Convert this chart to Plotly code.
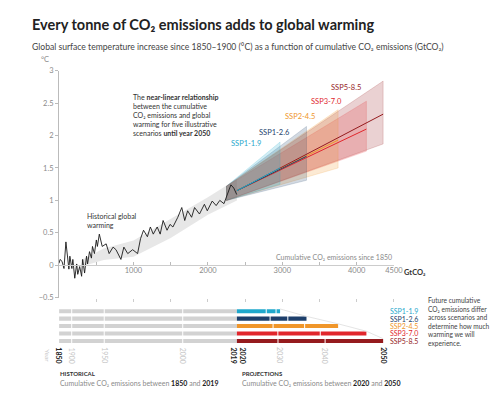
import plotly.graph_objects as go

W, H = 500, 416

# historical warming vs cumulative emissions (GtCO2, degC)
hist_x = [0, 13, 40, 66, 92, 119, 132, 145, 172, 185, 211, 237, 251, 277, 303, 317, 343, 369, 383, 409,
          435, 449, 475, 501, 515, 541, 580, 633, 673, 726, 765, 831, 871, 923, 989, 1055, 1095, 1135, 1187, 1227,
          1266, 1319, 1359, 1398, 1451, 1491, 1530, 1596, 1649, 1689, 1728, 1781, 1821, 1887, 1953, 1992, 2058, 2111, 2160, 2216,
          2309, 2348, 2388]
hist_y = [0.03, 0.09, 0.06, -0.05, 0.36, 0.03, -0.06, 0.14, -0.05, 0.09, -0.2, 0.02, -0.14, -0.02, -0.17, 0.09, -0.12, 0.14, 0.02, 0.21,
          0.11, 0.29, 0.18, 0.39, 0.29, 0.48, 0.29, 0.33, 0.18, 0.28, 0.24, 0.09, 0.28, 0.18, 0.24, 0.18, 0.41, 0.54, 0.44, 0.59,
          0.48, 0.59, 0.48, 0.69, 0.54, 0.63, 0.59, 0.74, 0.89, 0.69, 0.84, 0.74, 0.89, 0.79, 0.94, 0.84, 0.99, 0.92, 1.0, 0.95,
          1.24, 1.19, 1.09]

# historical likely range
band_x = [300, 600, 1000, 1500, 2000, 2390]
band_lo = [-0.02, 0.08, 0.13, 0.42, 0.78, 1.0]
band_hi = [0.08, 0.26, 0.38, 0.72, 1.05, 1.33]

# scenarios
scenarios = ["SSP1-1.9", "SSP1-2.6", "SSP2-4.5", "SSP3-7.0", "SSP5-8.5"]
colors = ["#1fa8cc", "#1d3f6b", "#f0962a", "#e1262c", "#951b1e"]
start_x = 2250
start_lo = 1.0
start_hi = 1.22
mid_start_x = 2390
mid_start_y = 1.15
end_x = [2970, 3325, 3750, 4130, 4355]
end_lo = [1.25, 1.31, 1.5, 1.76, 1.87]
end_hi = [1.9, 2.14, 2.4, 2.53, 2.84]
end_mid = [1.5, 1.68, 1.93, 2.1, 2.33]

# bottom bar panel
hist_end = 2390
decade_marks_hist = [170, 607, 1662]
decade_marks_proj = [[2784, 2916], [2836, 3074], [2876, 3300], [2940, 3510], [2942, 3575]]
year_labels = ["1850", "1900", "1950", "2000", "2019", "2020", "2030", "2040", "2050"]
year_pos = [0, 170, 607, 1662, 2350, 2470, 2960, 3570, 4355]
year_bold = [True, False, False, False, True, True, False, False, True]

x_ticks = [500, 1000, 1500, 2000, 2500, 3000, 3500, 4000, 4500]
x_ticktext = ["", "1000", "", "2000", "", "3000", "", "4000", "4500"]
y_ticks = [-0.5, 0, 0.5, 1, 1.5, 2, 2.5, 3]
y_ticktext = ["\u22120.5", "0", "0.5", "1", "1.5", "2", "2.5", "3"]


def px(x):
    return x / W


def py(y):
    return 1 - y / H


def rgba(hexc, a):
    h = hexc.lstrip("#")
    return "rgba(%d,%d,%d,%s)" % (int(h[0:2], 16), int(h[2:4], 16), int(h[4:6], 16), a)


FONT = "Lato, 'Open Sans', sans-serif"
GREY = "#8a8a8a"
DARK = "#333333"

fig = go.Figure()

# historical range band
fig.add_trace(go.Scatter(x=band_x + band_x[::-1], y=band_hi + band_lo[::-1], fill="toself",
                         fillcolor="rgba(195,195,195,0.4)", line=dict(width=0), mode="lines",
                         hoverinfo="skip", showlegend=False))

# scenario fans, widest at the back
for i in reversed(range(len(scenarios))):
    fig.add_trace(go.Scatter(
        x=[start_x, end_x[i], end_x[i], start_x, start_x],
        y=[start_lo, end_lo[i], end_hi[i], start_hi, start_lo],
        fill="toself", fillcolor=rgba(colors[i], 0.2),
        line=dict(color=rgba(colors[i], 0.22), width=0.8), mode="lines",
        hoverinfo="skip", showlegend=False))
for i in reversed(range(len(scenarios))):
    fig.add_trace(go.Scatter(x=[mid_start_x, end_x[i]], y=[mid_start_y, end_mid[i]], mode="lines",
                             line=dict(color=colors[i], width=1), showlegend=False, hoverinfo="skip"))

fig.add_trace(go.Scatter(x=hist_x, y=hist_y, mode="lines", line=dict(color="#1a1a1a", width=0.9),
                         showlegend=False, hoverinfo="skip"))

# dummy trace for the lower tick axis
fig.add_trace(go.Scatter(x=[0], y=[0], xaxis="x3", yaxis="y", mode="markers",
                         marker=dict(opacity=0), showlegend=False, hoverinfo="skip"))

# bottom bars
rows = list(range(len(scenarios)))
fig.add_trace(go.Scatter(x=end_x, y=[r - 0.3 for r in rows], mode="lines", xaxis="x2", yaxis="y2",
                         line=dict(color="#dddddd", width=0.8), showlegend=False, hoverinfo="skip"))
fig.add_trace(go.Bar(y=rows, x=[hist_end] * 5, base=[0] * 5, orientation="h", width=0.55,
                     marker=dict(color="#d2d2d2", line=dict(width=0)), xaxis="x2", yaxis="y2",
                     showlegend=False, hoverinfo="skip"))
fig.add_trace(go.Bar(y=rows, x=[e - hist_end for e in end_x], base=[hist_end] * 5, orientation="h", width=0.55,
                     marker=dict(color=colors, line=dict(width=0)), xaxis="x2", yaxis="y2",
                     showlegend=False, hoverinfo="skip"))
mx, my = [], []
for i in rows:
    for m in decade_marks_hist + decade_marks_proj[i]:
        mx.append(m)
        my.append(i)
fig.add_trace(go.Scatter(x=mx, y=my, mode="markers", xaxis="x2", yaxis="y2",
                         marker=dict(symbol="line-ns", size=5, line=dict(color="white", width=1)),
                         showlegend=False, hoverinfo="skip"))

y0_paper = py(292) + (0.5 / 3.5) * (py(60) - py(292))

fig.update_layout(
    width=W, height=H, margin=dict(l=0, r=0, t=0, b=0),
    paper_bgcolor="white", plot_bgcolor="white",
    font=dict(family=FONT, size=8, color=GREY),
    barmode="overlay",
    xaxis=dict(domain=[px(52), px(393)], range=[0, 4500], anchor="free", position=y0_paper,
               tickvals=x_ticks, ticktext=x_ticktext, ticks="inside", ticklen=3, tickcolor="#bbbbbb",
               showline=True, linecolor="#cccccc", linewidth=1, showgrid=False, zeroline=False,
               tickfont=dict(size=7.5, color=GREY), ticklabelstandoff=-2),
    xaxis3=dict(overlaying="x", anchor="y", side="bottom", range=[0, 4500], tickvals=x_ticks,
                showticklabels=False, ticks="outside", ticklen=3, tickcolor="#cccccc",
                showline=False, showgrid=False, zeroline=False),
    yaxis=dict(domain=[py(292), py(60)], range=[-0.5, 3], tickvals=y_ticks, ticktext=y_ticktext,
               ticks="outside", ticklen=3, tickcolor="#bbbbbb", showline=True, linecolor="#bbbbbb",
               linewidth=1, showgrid=False, zeroline=False, tickfont=dict(size=7.5, color=GREY)),
    xaxis2=dict(domain=[px(52), px(393)], range=[0, 4500], anchor="y2", visible=False),
    yaxis2=dict(domain=[py(340), py(302)], range=[4.5, -0.5], anchor="x2", visible=False),
)

ann = []
ann.append(dict(x=px(22), y=py(13), text="<b>Every tonne of CO\u2082 emissions adds to global warming</b>",
                font=dict(size=14.5, color="#222222")))
ann.append(dict(x=px(22), y=py(36),
                text="Global surface temperature increase since 1850\u20131900 (\u00b0C) as a function of cumulative CO\u2082 emissions (GtCO\u2082)",
                font=dict(size=8.6, color="#444444")))
ann.append(dict(x=px(32), y=py(49), text="\u00b0C", font=dict(size=7.5, color=GREY)))
ann.append(dict(x=px(125), y=py(105),
                text="The <b>near-linear relationship</b><br>between the cumulative<br>CO\u2082 emissions and global<br>warming for five illustrative<br>scenarios <b>until year 2050</b>",
                font=dict(size=7, color=DARK), align="left"))
ann.append(dict(x=px(78), y=py(213), text="Historical global<br>warming", font=dict(size=7, color=DARK), align="left"))
ann.append(dict(x=4500, y=0.12, xref="x", yref="y", xanchor="right",
                text="Cumulative CO\u2082 emissions since 1850", font=dict(size=7, color=GREY)))
ann.append(dict(x=4500, y=0, xref="x", yref="y", xanchor="left", yanchor="top", xshift=8, yshift=-1,
                text="<b>GtCO\u2082</b>", font=dict(size=7.5, color=DARK)))

lab_pos = [(2282, 1.87), (2665, 2.05), (3008, 2.29), (3364, 2.52), (3628, 2.74)]
for i, s in enumerate(scenarios):
    ann.append(dict(x=lab_pos[i][0], y=lab_pos[i][1], xref="x", yref="y", xanchor="left",
                    text=s, font=dict(size=7.5, color=colors[i])))
    ann.append(dict(x=px(387), y=i, xref="paper", yref="y2", xanchor="left",
                    text=s, font=dict(size=7, color=colors[i])))

ann.append(dict(x=px(426), y=py(316),
                text="Future cumulative<br>CO\u2082 emissions differ<br>across scenarios and<br>determine how much<br>warming we will<br>experience.",
                font=dict(size=6.6, color="#444444"), align="left"))

for lbl, pos, b in zip(year_labels, year_pos, year_bold):
    ann.append(dict(x=pos, y=py(351), xref="x2", yref="paper", xanchor="center", yanchor="middle",
                    textangle=90, text="<b>%s</b>" % lbl if b else lbl,
                    font=dict(size=7, color="#222222" if b else "#c4c4c4")))
ann.append(dict(x=px(40), y=py(351), xanchor="center", yanchor="middle", textangle=90,
                text="Year", font=dict(size=6.5, color="#c4c4c4")))

ann.append(dict(x=px(51), y=py(370), text="<b>HISTORICAL</b>", font=dict(size=6, color=DARK)))
ann.append(dict(x=px(51), y=py(379), text="Cumulative CO\u2082 emissions between <b style='color:#222'>1850</b> and <b style='color:#222'>2019</b>",
                font=dict(size=7, color=GREY)))
ann.append(dict(x=px(236), y=py(370), text="<b>PROJECTIONS</b>", font=dict(size=6, color=DARK)))
ann.append(dict(x=px(236), y=py(379), text="Cumulative CO\u2082 emissions between <b style='color:#222'>2020</b> and <b style='color:#222'>2050</b>",
                font=dict(size=7, color=GREY)))

for a in ann:
    a.setdefault("xref", "paper")
    a.setdefault("yref", "paper")
    a.setdefault("xanchor", "left")
    a.setdefault("yanchor", "middle")
    a["showarrow"] = False
fig.update_layout(annotations=ann)

fig.write_html("out.html")
